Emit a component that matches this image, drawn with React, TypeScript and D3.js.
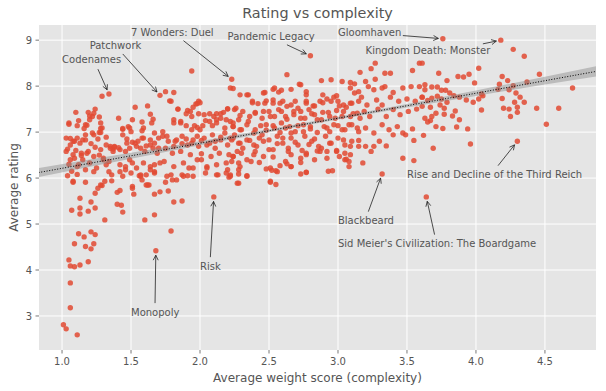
import React from "react";
import * as d3 from "d3";

// [weight, rating]
const lightGames: [number, number][] = [
  [1.29, 7.78], [1.34, 7.83], [1.1, 7.43], [1.19, 7.43], [1.24, 7.5], [1.22, 7.34], [1.27, 7.33], [1.2, 7.27],
  [1.05, 7.17], [1.12, 7.25], [1.18, 7.15], [1.16, 7.08], [1.28, 7.08], [1.28, 6.99], [1.41, 7.3], [1.53, 7.54],
  [1.62, 7.57], [1.64, 7.39], [1.66, 7.28], [1.44, 7.08], [1.49, 7.09], [1.58, 7.22], [1.59, 7.09],
  [1.03, 6.87], [1.06, 6.86], [1.09, 6.8], [1.11, 6.87], [1.13, 6.76], [1.15, 6.83], [1.17, 6.94], [1.23, 6.94],
  [1.26, 6.85], [1.32, 6.89], [1.35, 6.69], [1.37, 6.63], [1.38, 6.67], [1.41, 6.66], [1.47, 6.85], [1.51, 6.78],
  [1.54, 6.69], [1.58, 6.87], [1.61, 6.7], [1.64, 6.83], [1.67, 6.76], [1.7, 6.65],
  [1.14, 6.49], [1.18, 6.54], [1.08, 6.51], [1.06, 6.4], [1.11, 6.25], [1.2, 6.33], [1.25, 6.22], [1.3, 6.43],
  [1.32, 6.29], [1.36, 6.07], [1.42, 6.14], [1.46, 6.25], [1.49, 6.4], [1.57, 6.07], [1.64, 6.25], [1.67, 6.14],
  [1.08, 5.91], [1.17, 5.91], [1.29, 5.84], [1.36, 5.94], [1.63, 5.85],
  [1.11, 6.08], [1.44, 6.04], [1.5, 6.11], [1.56, 6.05], [1.58, 5.96], [1.62, 5.85], [1.26, 5.78], [1.24, 5.67],
  [1.31, 5.93], [1.4, 5.69], [1.42, 5.73], [1.51, 5.78], [1.52, 5.65], [1.67, 5.65], [1.13, 5.56], [1.21, 5.48],
  [1.07, 5.3], [1.13, 5.35], [1.13, 5.22], [1.19, 5.28], [1.24, 5.35], [1.4, 5.43], [1.43, 5.41], [1.44, 5.26],
  [1.31, 5.09], [1.6, 5.09], [1.67, 5.2], [1.12, 4.79], [1.16, 4.72], [1.21, 4.83], [1.24, 4.77], [1.09, 4.57],
  [1.17, 4.51], [1.21, 4.46], [1.23, 4.57], [1.68, 4.42], [1.05, 4.22], [1.06, 4.09], [1.09, 4.07], [1.13, 4.11],
  [1.19, 4.18], [1.06, 3.72], [1.06, 3.18], [1.01, 2.81], [1.03, 2.72], [1.11, 2.59],
  [1.23, 7.41], [1.2, 7.35], [1.17, 7.16], [1.11, 7.14], [1.05, 7.2], [1.28, 7.2], [1.29, 7.09], [1.22, 6.98],
  [1.27, 6.99], [1.51, 7.27], [1.48, 7.12], [1.5, 7.01], [1.44, 7.06], [1.44, 6.94], [1.65, 7.2], [1.58, 7.03],
  [1.67, 6.98], [1.7, 6.87], [1.08, 6.8], [1.17, 6.83], [1.06, 6.72], [1.03, 6.58], [1.14, 6.54], [1.19, 6.58],
  [1.24, 6.67], [1.28, 6.62], [1.32, 6.72], [1.35, 6.65], [1.38, 6.69], [1.37, 6.58], [1.42, 6.62], [1.46, 6.58],
  [1.49, 6.65], [1.53, 6.76], [1.57, 6.65], [1.6, 6.58], [1.64, 6.72], [1.66, 6.65], [1.69, 6.54], [1.55, 6.8],
  [1.47, 6.76], [1.59, 6.87], [1.09, 6.43], [1.23, 6.47], [1.3, 6.4], [1.34, 6.36], [1.42, 6.29], [1.46, 6.18],
  [1.51, 6.33], [1.54, 6.22], [1.59, 6.33], [1.64, 6.18], [1.67, 6.29], [1.67, 6.11], [1.34, 6.14], [1.23, 6.14],
  [1.17, 6.18], [1.12, 6.29], [1.57, 6.04], [1.61, 6.07], [1.08, 5.93], [1.28, 5.85], [1.51, 5.82], [1.61, 5.85],
  [1.04, 6.63], [1.05, 6.3], [1.04, 6.05], [1.07, 6.15], [1.1, 6.6], [1.15, 6.4], [1.21, 6.75], [1.27, 6.5],
];

const midGames: [number, number][] = [
  [1.94, 8.33], [2.23, 8.15], [2.22, 7.96], [1.71, 7.8], [1.75, 7.88], [1.78, 7.68], [1.99, 7.67], [1.97, 7.61],
  [1.95, 7.54], [1.91, 7.47], [1.84, 7.5], [1.9, 7.4], [1.99, 7.4], [2.03, 7.38], [2.1, 7.34], [2.12, 7.4],
  [2.17, 7.43], [2.2, 7.51], [2.26, 7.52], [1.81, 7.27], [1.86, 7.2], [1.9, 7.14], [1.94, 7.05], [1.98, 7.1],
  [2.02, 7.14], [2.07, 7.23], [2.12, 7.27], [2.19, 7.27], [2.24, 7.2], [2.28, 7.27],
  [1.73, 6.91], [1.77, 6.8], [1.81, 6.69], [1.83, 6.83], [1.87, 6.75], [1.9, 6.85], [1.94, 6.76], [1.98, 6.91],
  [2.01, 6.82], [2.05, 6.72], [2.09, 6.94], [2.11, 6.8], [2.15, 6.89], [2.18, 6.98], [2.22, 6.87], [2.25, 6.94],
  [1.71, 6.33], [1.76, 6.04], [1.8, 5.96], [1.83, 5.96], [1.88, 6.04], [1.92, 6.22], [1.98, 6.4], [2.05, 6.25],
  [2.12, 6.07], [2.19, 6.33], [2.24, 6.47], [2.28, 6.33], [2.27, 5.89],
  [1.75, 5.91], [1.91, 6.05], [2.13, 6.07], [2.19, 6.11], [2.21, 6.02], [2.28, 5.89], [1.71, 5.7], [1.77, 5.72],
  [1.81, 5.48], [1.87, 5.5], [2.1, 5.59], [1.79, 4.85],
  [2.29, 7.81], [2.35, 7.81], [1.81, 7.86], [1.98, 7.62], [2.0, 7.64], [1.79, 7.67], [1.84, 7.5], [1.93, 7.45],
  [2.07, 7.4], [2.15, 7.4], [2.2, 7.5], [2.15, 7.3], [2.22, 7.23], [2.29, 7.36], [2.4, 7.41], [2.38, 7.64],
  [1.81, 7.2], [1.86, 7.23], [1.94, 7.34], [1.96, 7.14], [2.0, 7.05], [2.04, 7.25], [2.09, 7.14], [2.12, 7.2],
  [2.18, 7.09], [2.24, 7.12], [2.3, 7.05], [2.35, 7.23], [2.4, 7.05],
  [1.73, 7.01], [1.76, 6.91], [1.82, 6.8], [1.87, 6.91], [1.91, 6.72], [1.95, 6.83], [1.99, 6.69], [2.03, 6.87],
  [2.07, 6.76], [2.11, 6.65], [2.15, 6.83], [2.2, 6.72], [2.24, 6.87], [2.29, 6.76], [2.34, 6.83], [2.39, 6.72],
  [2.43, 6.87], [1.75, 6.65], [1.8, 6.54], [1.86, 6.58], [1.93, 6.51], [2.01, 6.53], [2.08, 6.47], [2.14, 6.54],
  [2.21, 6.51], [2.27, 6.58], [2.4, 6.58], [1.74, 6.36], [1.81, 6.25], [1.88, 6.33], [1.95, 6.22], [2.01, 6.4],
  [2.05, 6.22], [2.12, 6.29], [2.2, 6.18], [2.23, 6.36], [2.29, 6.25], [2.37, 6.36], [1.79, 6.07], [1.87, 6.07],
  [1.95, 6.04], [2.04, 6.11], [2.22, 6.07], [2.28, 6.18],
  [2.24, 7.95], [2.34, 7.81], [2.38, 7.67], [2.42, 7.62], [2.25, 7.49], [2.31, 7.45], [2.36, 7.34], [2.4, 7.43],
  [2.24, 7.12], [2.29, 7.05], [2.34, 7.16], [2.39, 6.98], [2.44, 7.14], [2.23, 6.83], [2.28, 6.76], [2.31, 6.65],
  [2.36, 6.82], [2.41, 6.69], [2.24, 6.47], [2.3, 6.54], [2.34, 6.4], [2.39, 6.51], [2.43, 6.34], [2.28, 6.09],
  [2.34, 6.05], [2.22, 6.04], [2.34, 6.04],
];

const mediumHeavyGames: [number, number][] = [
  [2.8, 8.66], [2.63, 8.25], [3.27, 8.5], [3.59, 8.5], [3.54, 8.34], [3.16, 8.3], [3.24, 8.38], [3.34, 8.28],
  [3.38, 8.28], [2.88, 8.12], [2.95, 8.14], [3.03, 8.1], [3.09, 8.08], [3.12, 8.05], [3.2, 8.1], [3.27, 8.15],
  [3.34, 7.99], [2.72, 8.04], [2.53, 7.93], [2.66, 7.93], [2.77, 7.88], [2.57, 7.87], [2.47, 7.86],
  [3.09, 7.96], [3.15, 7.88], [3.22, 7.99], [3.26, 7.92], [3.32, 7.96], [3.4, 7.86], [3.47, 7.96], [3.53, 7.99],
  [3.59, 7.99], [3.61, 7.76],
  [2.48, 7.68], [2.53, 7.7], [2.58, 7.63], [2.63, 7.56], [2.69, 7.67], [2.71, 7.52], [2.77, 7.67], [2.82, 7.57],
  [2.87, 7.67], [2.92, 7.72], [2.97, 7.76], [3.0, 7.67], [3.04, 7.59], [3.1, 7.63], [3.17, 7.76], [3.21, 7.59],
  [3.28, 7.7], [3.32, 7.59], [3.38, 7.76], [3.44, 7.67], [3.5, 7.72], [3.56, 7.67],
  [2.45, 7.3], [2.5, 7.45], [2.54, 7.34], [2.59, 7.45], [2.63, 7.28], [2.68, 7.38], [2.73, 7.45], [2.76, 7.3],
  [2.81, 7.4], [2.85, 7.27], [2.89, 7.43], [2.94, 7.34], [2.99, 7.47], [3.03, 7.34], [3.06, 7.54], [3.11, 7.4],
  [3.16, 7.3], [3.19, 7.45], [3.23, 7.34], [3.29, 7.5], [3.35, 7.34], [3.4, 7.49], [3.45, 7.38], [3.51, 7.45],
  [3.57, 7.5],
  [2.48, 7.04], [2.53, 7.14], [2.58, 6.99], [2.62, 7.09], [2.66, 6.98], [2.71, 7.14], [2.75, 7.01], [2.8, 7.12],
  [2.85, 6.99], [2.9, 7.12], [2.94, 7.01], [3.0, 7.14], [3.05, 7.05], [3.1, 7.16], [3.15, 7.01], [3.2, 7.09],
  [3.26, 6.98], [3.32, 7.16], [3.37, 7.05], [3.43, 7.12], [3.47, 6.98], [3.54, 7.07],
  [2.46, 6.8], [2.5, 6.62], [2.56, 6.75], [2.6, 6.87], [2.64, 6.65], [2.69, 6.78], [2.74, 6.6], [2.79, 6.73],
  [2.83, 6.85], [2.88, 6.65], [2.94, 6.76], [2.99, 6.6], [3.04, 6.83], [3.09, 6.69], [3.15, 6.82], [3.2, 6.69],
  [3.24, 6.58], [3.3, 6.8], [3.35, 6.7], [3.4, 6.94], [3.49, 6.94], [3.55, 6.82],
  [2.46, 6.47], [2.53, 6.46], [2.63, 6.31], [2.66, 6.51], [2.73, 6.43], [2.77, 6.51], [2.85, 6.59], [2.92, 6.58],
  [3.05, 6.54], [3.06, 6.41], [3.08, 6.36], [3.18, 6.33], [3.26, 6.69], [3.47, 6.43], [3.55, 6.38],
  [2.58, 6.27], [2.66, 6.25], [2.73, 6.34], [2.48, 6.2], [2.52, 6.17], [2.55, 6.16], [2.77, 6.12], [2.73, 6.09],
  [2.96, 6.16], [2.51, 5.93], [2.55, 5.86], [3.32, 6.09],
  [2.56, 6.14], [2.51, 5.91], [2.77, 6.13], [2.93, 6.15], [3.64, 5.59],
  [2.73, 8.03], [2.54, 7.96], [2.46, 7.85], [2.59, 7.91], [2.77, 7.81], [2.89, 7.81], [2.99, 7.79], [3.12, 7.85],
  [2.47, 7.63], [2.53, 7.63], [2.6, 7.67], [2.66, 7.59], [2.77, 7.63], [2.83, 7.57], [2.89, 7.64], [2.95, 7.67],
  [3.01, 7.57], [3.09, 7.63], [3.15, 7.67],
  [2.46, 7.45], [2.51, 7.34], [2.57, 7.49], [2.62, 7.34], [2.68, 7.45], [2.73, 7.3], [2.79, 7.49], [2.83, 7.38],
  [2.88, 7.27], [2.93, 7.43], [2.98, 7.3], [3.04, 7.45], [3.09, 7.34], [3.14, 7.41], [2.48, 7.16], [2.54, 7.09],
  [2.59, 7.2], [2.65, 7.12], [2.69, 7.01], [2.75, 7.16], [2.8, 7.07], [2.92, 7.09], [2.97, 7.16], [3.03, 7.05],
  [3.08, 7.16], [3.14, 7.09],
  [2.45, 6.94], [2.5, 6.83], [2.56, 6.91], [2.6, 6.76], [2.66, 6.87], [2.71, 6.72], [2.76, 6.91], [2.81, 6.8],
  [2.86, 6.69], [2.91, 6.91], [2.95, 6.76], [3.0, 6.87], [3.05, 6.72], [3.1, 6.8], [3.15, 6.69], [2.53, 6.62],
  [2.64, 6.58], [2.77, 6.54], [2.87, 6.58], [2.99, 6.58], [3.09, 6.51], [3.05, 6.4],
  [2.51, 6.22], [2.62, 6.36], [2.66, 6.25], [2.83, 6.4], [2.92, 6.43], [3.01, 6.47], [3.08, 6.25],
];

const heavyGames: [number, number][] = [
  [3.76, 9.03], [4.18, 9.0], [4.27, 8.8], [4.35, 8.65], [4.46, 8.26], [4.37, 8.09], [4.7, 7.96], [4.02, 8.39],
  [3.95, 8.26], [3.91, 8.2], [3.87, 8.21], [3.79, 8.12], [3.73, 8.28], [3.99, 8.07], [4.19, 8.21], [4.23, 8.12],
  [4.27, 8.01], [4.17, 8.04], [4.24, 7.92], [4.16, 7.93], [4.29, 7.85], [4.32, 7.76], [4.28, 7.65], [4.35, 7.65],
  [4.19, 7.73], [4.2, 7.52], [4.24, 7.5], [4.3, 7.54], [4.3, 7.43], [4.25, 7.34], [4.44, 7.52], [4.6, 7.52],
  [4.51, 7.17], [4.04, 7.48], [4.3, 6.8], [3.62, 6.93], [3.69, 6.65], [3.96, 6.74],
  [4.04, 7.83], [4.05, 7.79], [4.02, 7.72], [3.98, 7.65], [3.93, 7.7], [3.88, 7.76], [3.84, 7.79], [3.81, 7.85],
  [3.78, 7.91], [3.75, 7.91], [3.72, 7.98], [3.68, 7.98], [3.63, 8.03], [3.63, 7.92], [3.61, 7.76], [3.65, 7.69],
  [3.68, 7.74], [3.72, 7.78], [3.75, 7.72], [3.79, 7.65], [3.74, 7.59], [3.77, 7.52], [3.67, 7.54], [3.71, 7.41],
  [3.77, 7.39], [3.85, 7.46], [3.83, 7.35], [3.88, 7.27], [3.68, 7.34], [3.67, 7.25], [3.65, 7.22], [3.71, 7.12],
  [3.76, 7.08], [3.86, 7.11], [3.94, 7.07], [3.63, 7.3], [3.61, 7.56], [3.61, 8.5],
];

// fitted line and its confidence band
const trendX = [0.83, 4.87];
const trendY = [6.12, 8.32];
const bandX = [0.83, 1.5, 2.0, 2.5, 3.0, 3.5, 4.0, 4.5, 4.87];
const bandHalf = [0.1, 0.065, 0.045, 0.032, 0.03, 0.04, 0.06, 0.085, 0.11];

const xTicks = [1.0, 1.5, 2.0, 2.5, 3.0, 3.5, 4.0, 4.5];
const yTicks = [3, 4, 5, 6, 7, 8, 9];

const annotations = [
  { label: "Codenames", x: 1.34, y: 7.83, tx: 1.0, ty: 8.5, ax: 1.26, ay: 8.37 },
  { label: "Patchwork", x: 1.71, y: 7.8, tx: 1.2, ty: 8.8, ax: 1.44, ay: 8.7 },
  { label: "7 Wonders: Duel", x: 2.23, y: 8.15, tx: 1.5, ty: 9.1, ax: 1.88, ay: 8.99 },
  { label: "Pandemic Legacy", x: 2.8, y: 8.66, tx: 2.2, ty: 9.0, ax: 2.63, ay: 8.9 },
  { label: "Gloomhaven", x: 3.76, y: 9.03, tx: 3.0, ty: 9.1, ax: 3.47, ay: 9.1 },
  { label: "Kingdom Death: Monster", x: 4.18, y: 9.0, tx: 3.2, ty: 8.7, ax: 4.05, ay: 8.92 },
  { label: "Rise and Decline of the Third Reich", x: 4.3, y: 6.8, tx: 3.5, ty: 6.0, ax: 4.16, ay: 6.27 },
  { label: "Blackbeard", x: 3.32, y: 6.09, tx: 3.0, ty: 5.0, ax: 3.22, ay: 5.27 },
  { label: "Sid Meier's Civilization: The Boardgame", x: 3.64, y: 5.59, tx: 3.0, ty: 4.5, ax: 3.7, ay: 4.77 },
  { label: "Risk", x: 2.1, y: 5.59, tx: 2.0, ty: 4.0, ax: 2.075, ay: 4.28 },
  { label: "Monopoly", x: 1.68, y: 4.42, tx: 1.5, ty: 3.0, ax: 1.674, ay: 3.28 },
];

const width = 606;
const height = 391;
const margin = { top: 25, right: 10, bottom: 41, left: 39 };
const font = "DejaVu Sans, sans-serif";
const textColor = "#555555";

export default function App() {
  const x = d3.scaleLinear().domain([0.833, 4.87]).range([margin.left, width - margin.right]);
  const y = d3.scaleLinear().domain([2.26, 9.33]).range([height - margin.bottom, margin.top]);

  const allGames = [...lightGames, ...midGames, ...mediumHeavyGames, ...heavyGames];

  const trendSlope = (trendY[1] - trendY[0]) / (trendX[1] - trendX[0]);
  const trendAt = (v: number) => trendY[0] + trendSlope * (v - trendX[0]);

  const band = d3
    .area<number>()
    .x((v) => x(v))
    .y0((v, i) => y(trendAt(v) - bandHalf[i]))
    .y1((v, i) => y(trendAt(v) + bandHalf[i]))
    .curve(d3.curveMonotoneX);

  const trendLine = d3
    .line<number>()
    .x((v) => x(v))
    .y((v, i) => y(trendY[i]));

  const plotLeft = margin.left;
  const plotRight = width - margin.right;
  const plotTop = margin.top;
  const plotBottom = height - margin.bottom;

  return (
    <svg
      width={width}
      height={height}
      style={{ position: "absolute", left: 0, top: 0, background: "#ffffff" }}
      fontFamily={font}
    >
      <defs>
        <clipPath id="plot-clip">
          <rect x={plotLeft} y={plotTop} width={plotRight - plotLeft} height={plotBottom - plotTop} />
        </clipPath>
      </defs>
      <rect x={plotLeft} y={plotTop} width={plotRight - plotLeft} height={plotBottom - plotTop} fill="#E5E5E5" />

      {/* grid */}
      {xTicks.map((t) => (
        <line key={"gx" + t} x1={x(t)} x2={x(t)} y1={plotTop} y2={plotBottom} stroke="#ffffff" strokeWidth={1} />
      ))}
      {yTicks.map((t) => (
        <line key={"gy" + t} x1={plotLeft} x2={plotRight} y1={y(t)} y2={y(t)} stroke="#ffffff" strokeWidth={1} />
      ))}

      <g clipPath="url(#plot-clip)">
        {allGames.map(([w, r], i) => (
          <circle key={i} cx={x(w)} cy={y(r)} r={2.7} fill="#E24A33" fillOpacity={0.85} />
        ))}
        <path d={band(bandX) || ""} fill="#888888" fillOpacity={0.45} />
        <path
          d={trendLine(trendX) || ""}
          fill="none"
          stroke="#000000"
          strokeWidth={1}
          strokeDasharray="1,1.7"
        />
      </g>

      {/* annotations */}
      {annotations.map((a) => {
        const sx = x(a.ax);
        const sy = y(a.ay);
        const px = x(a.x);
        const py = y(a.y);
        const len = Math.hypot(px - sx, py - sy);
        const ux = (px - sx) / len;
        const uy = (py - sy) / len;
        const ex = px - ux * 4.5;
        const ey = py - uy * 4.5;
        const hx = ex - ux * 5;
        const hy = ey - uy * 5;
        return (
          <g key={a.label}>
            <text x={x(a.tx)} y={y(a.ty)} fontSize={10} fill={textColor}>
              {a.label}
            </text>
            <line x1={sx} y1={sy} x2={ex} y2={ey} stroke="#222" strokeWidth={0.8} />
            <path
              d={`M${hx - uy * 2.5},${hy + ux * 2.5}L${ex},${ey}L${hx + uy * 2.5},${hy - ux * 2.5}`}
              fill="none"
              stroke="#222"
              strokeWidth={0.8}
            />
          </g>
        );
      })}

      {/* x axis */}
      {xTicks.map((t) => (
        <g key={"xt" + t}>
          <line x1={x(t)} x2={x(t)} y1={plotBottom} y2={plotBottom + 3.5} stroke={textColor} strokeWidth={0.8} />
          <text x={x(t)} y={plotBottom + 15} fontSize={10} fill={textColor} textAnchor="middle">
            {t.toFixed(1)}
          </text>
        </g>
      ))}
      {/* y axis */}
      {yTicks.map((t) => (
        <g key={"yt" + t}>
          <line x1={plotLeft - 3.5} x2={plotLeft} y1={y(t)} y2={y(t)} stroke={textColor} strokeWidth={0.8} />
          <text x={plotLeft - 7} y={y(t) + 3.6} fontSize={10} fill={textColor} textAnchor="end">
            {t}
          </text>
        </g>
      ))}

      <text
        x={(plotLeft + plotRight) / 2}
        y={plotBottom + 32}
        fontSize={12}
        fill={textColor}
        textAnchor="middle"
      >
        Average weight score (complexity)
      </text>
      <text
        transform={`translate(18,${(plotTop + plotBottom) / 2}) rotate(-90)`}
        fontSize={12}
        fill={textColor}
        textAnchor="middle"
      >
        Average rating
      </text>
      <text x={(plotLeft + plotRight) / 2} y={18} fontSize={14.4} fill={textColor} textAnchor="middle">
        Rating vs complexity
      </text>
    </svg>
  );
}
